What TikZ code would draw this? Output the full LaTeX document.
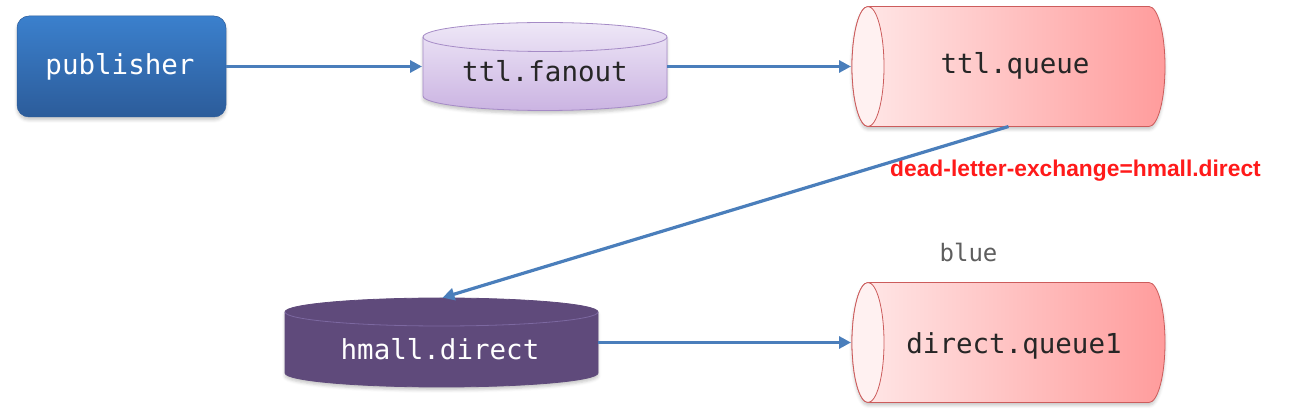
\documentclass[tikz,border=0pt]{standalone}
\usepackage{fontspec}
\setmainfont{Liberation Sans}
\newfontfamily\monof{DejaVu Sans Mono}
\usetikzlibrary{arrows.meta,shadows.blur}
\definecolor{arrowblue}{HTML}{4A7EBB}
\definecolor{pubtop}{HTML}{3B80CD}
\definecolor{pubbot}{HTML}{2C5C9A}
\definecolor{fantop}{HTML}{EEE7F7}
\definecolor{fanbot}{HTML}{CBB4E2}
\definecolor{fanedge}{HTML}{A58BC6}
\definecolor{qleft}{HTML}{FFE9E9}
\definecolor{qright}{HTML}{FF9C9C}
\definecolor{qedge}{HTML}{CC5C5C}
\definecolor{qface}{HTML}{FFF1F1}
\definecolor{hfill}{HTML}{5F4A7B}
\definecolor{hrim}{HTML}{7C68A0}
\definecolor{labelred}{HTML}{FF1A1A}
\definecolor{bluegray}{HTML}{5E5E5E}
\tikzset{
  softshadow/.style={blur shadow={shadow xshift=0pt,shadow yshift=-3pt,shadow blur radius=3pt,shadow opacity=22}},
  pubbox/.style={rounded corners=12pt, minimum width=209pt, minimum height=101pt, inner sep=0pt, outer sep=0pt,
    top color=pubtop, bottom color=pubbot, draw=pubbot, line width=0.5pt, softshadow},
  holder/.style={inner sep=0pt, outer sep=0pt, draw=none, fill=none},
  monotext/.style={font=\monof\fontsize{27.5}{30}\selectfont, inner sep=0pt, anchor=base},
  fancyl/.style={top color=fantop, bottom color=fanbot, draw=fanedge, line width=0.8pt, softshadow},
  qcyl/.style={left color=qleft, right color=qright, draw=qedge, line width=0.8pt, softshadow},
  hcyl/.style={fill=hfill, draw=hfill, line width=0.8pt, softshadow},
  flow/.style={draw=arrowblue, line width=3.2pt, -{Triangle[length=12pt,width=12pt]}, shorten >=1pt}
}
\begin{document}
\begin{tikzpicture}[x=1pt,y=1pt]
\useasboundingbox (0,0) rectangle (1298,412);

% publisher
\node[pubbox] (pub) at (121.5,345.5) {};
\node[monotext, text=white] (pubt) at (120,337) {publisher};

% ttl.fanout (vertical cylinder)
\path[fancyl] (423,375) -- (423,316) arc[start angle=180,end angle=360,x radius=122pt,y radius=14.5pt]
  -- (667,375) arc[start angle=0,end angle=180,x radius=122pt,y radius=14.5pt] -- cycle;
\draw[fanedge, line width=0.8pt] (423,375) arc[start angle=180,end angle=360,x radius=122pt,y radius=14.5pt];
\node[holder, minimum width=244pt, minimum height=87pt] (fan) at (545,345.5) {};
\node[monotext, text=black!85] (fant) at (545,330) {ttl.fanout};

% ttl.queue (horizontal cylinder)
\path[qcyl] (868,405.5) -- (1149,405.5) arc[start angle=90,end angle=-90,x radius=16pt,y radius=60pt]
  -- (868,285.5) arc[start angle=270,end angle=90,x radius=16pt,y radius=60pt] -- cycle;
\draw[fill=qface, draw=qedge, line width=0.8pt] (868,345.5) ellipse[x radius=16pt,y radius=60pt];
\node[holder, minimum width=313pt, minimum height=120pt] (ttlq) at (1008.5,345.5) {};
\node[monotext, text=black!85] (ttlqt) at (1015,338) {ttl.queue};

% hmall.direct (vertical cylinder)
\path[hcyl] (285,100) -- (285,39) arc[start angle=180,end angle=360,x radius=156.5pt,y radius=14pt]
  -- (598,100) arc[start angle=0,end angle=180,x radius=156.5pt,y radius=14pt] -- cycle;
\draw[hrim, line width=0.8pt] (285,100) arc[start angle=180,end angle=360,x radius=156.5pt,y radius=14pt];
\node[holder, minimum width=313pt, minimum height=89pt] (hd) at (441.5,69.5) {};
\node[monotext, text=white] (hdt) at (440,52.4) {hmall.direct};

% direct.queue1 (horizontal cylinder)
\path[qcyl] (868,129.5) -- (1149,129.5) arc[start angle=90,end angle=-90,x radius=16pt,y radius=60pt]
  -- (868,9.5) arc[start angle=270,end angle=90,x radius=16pt,y radius=60pt] -- cycle;
\draw[fill=qface, draw=qedge, line width=0.8pt] (868,69.5) ellipse[x radius=16pt,y radius=60pt];
\node[holder, minimum width=313pt, minimum height=120pt] (dq) at (1008.5,69.5) {};
\node[monotext, text=black!85] (dqt) at (1014,58.7) {direct.queue1};

% labels
\node[font=\monof\fontsize{24}{26}\selectfont, text=bluegray, inner sep=0pt, anchor=base] (blue) at (968.5,150.3) {blue};
\node[font=\bfseries\fontsize{22.8}{25}\selectfont, text=labelred, inner sep=0pt, anchor=base] (dlx) at (1075.5,235.3) {dead-letter-exchange=hmall.direct};

% connectors
\draw[flow] (pub.east) -- (fan.west);
\draw[flow] (fan.east) -- (ttlq.west);
\draw[flow] (ttlq.south) -- (hd.north);
\draw[flow] (hd.east) -- (dq.west);
\end{tikzpicture}
\end{document}
